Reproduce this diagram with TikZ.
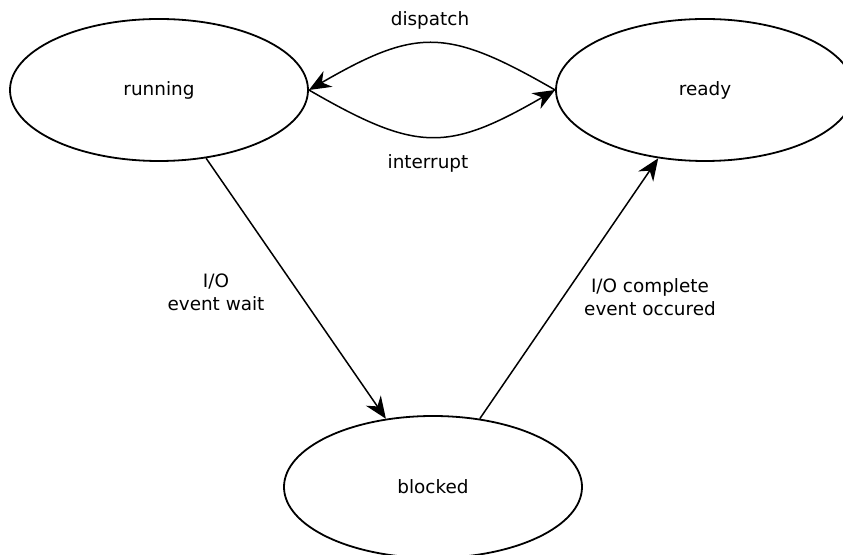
\documentclass[tikz,border=0pt]{standalone}
\usepackage{fontspec}
\setmainfont{DejaVu Sans}
\usetikzlibrary{arrows.meta,shapes.geometric}

\begin{document}
\begin{tikzpicture}[x=1pt,y=1pt,
	state/.style={draw,ellipse,line width=1.8pt,minimum width=298pt,minimum height=142pt,inner sep=0pt,font=\fontsize{18.4}{23}\selectfont},
	trans/.style={line width=1.5pt,-{Stealth[length=22pt,width=18pt,inset=7pt]}},
	lbl/.style={align=center,font=\fontsize{18.4}{23}\selectfont}]
			\clip (0,0) rectangle (843,554);
			\node[state] (running) at (159,464) {running};
			\node[state] (ready) at (705,464) {ready};
			\node[state] (blocked) at (433,67) {blocked};
			\draw[trans] (ready.west) to[out=150,in=30,looseness=1.3] (running.east);
			\draw[trans] (running.east) to[out=-30,in=-150,looseness=1.3] (ready.west);
			\draw[trans] (running) -- (blocked);
			\draw[trans] (blocked) -- (ready);
			\node[lbl] (dispatch) at (430,534) {dispatch};
			\node[lbl] (interrupt) at (428,391) {interrupt};
			\node[lbl] (iowait) at (216,262) {I/O\\event wait};
			\node[lbl] (iodone) at (650,257) {I/O complete\\event occured};
\end{tikzpicture}
\end{document}
